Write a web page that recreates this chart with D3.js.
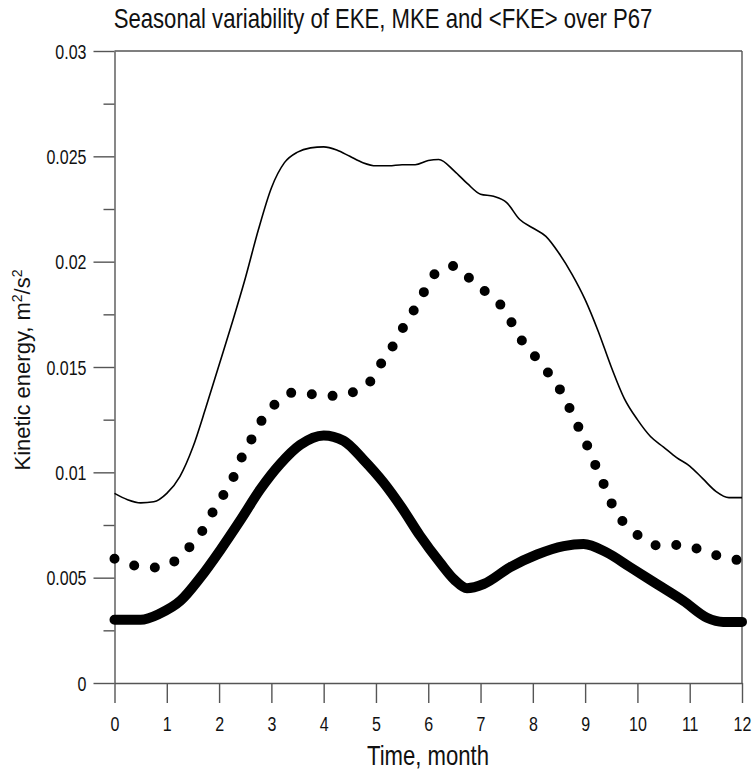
<!DOCTYPE html>
<html>
<head>
<meta charset="utf-8">
<script src="https://cdn.jsdelivr.net/npm/d3@7"></script>
<style>
  body { margin: 0; background: #fff; }
  text { font-family: "Liberation Sans", Arial, sans-serif; fill: #111; }
</style>
</head>
<body>
<div id="chart"></div>
<script>
// thin line
var thinMonths = [0, 0.25, 0.5, 0.75, 1, 1.25, 1.5, 1.75, 2, 2.25, 2.5, 2.75, 3, 3.25, 3.5, 3.75, 4, 4.25, 4.5, 4.75,
  5, 5.25, 5.5, 5.75, 6, 6.2, 6.5, 6.75, 7, 7.25, 7.5, 7.75, 8, 8.25, 8.5, 8.75, 9, 9.25, 9.5, 9.75,
  10, 10.25, 10.5, 10.75, 11, 11.25, 11.5, 11.75, 12];
var thinValues = [0.0090, 0.0087, 0.00855, 0.0086, 0.0090, 0.0098, 0.0112, 0.0131, 0.0151, 0.0171, 0.0192, 0.0215, 0.0235, 0.0247, 0.0252, 0.0254, 0.02545, 0.0253, 0.0250, 0.0247,
  0.02455, 0.02455, 0.0246, 0.0246, 0.0248, 0.02485, 0.0243, 0.0237, 0.0232, 0.0231, 0.0228, 0.0220, 0.0216, 0.0212, 0.0204, 0.0194, 0.0182, 0.0167, 0.0150, 0.0135,
  0.0125, 0.0117, 0.0112, 0.0107, 0.0103, 0.0097, 0.0091, 0.0088, 0.0088];

// dotted line
var dotMonths = [0, 0.4, 0.8, 1.16, 1.45, 1.7, 1.9, 2.1, 2.3, 2.45, 2.65, 2.85, 3.1, 3.45, 3.8, 4.2, 4.6, 4.92,
  5.13, 5.35, 5.55, 5.75, 5.95, 6.16, 6.53, 6.83, 7.13, 7.43, 7.62, 7.83, 8.08, 8.33, 8.55, 8.73, 8.9,
  9.07, 9.22, 9.38, 9.55, 9.78, 10.08, 10.45, 10.85, 11.23, 11.6, 12];
var dotValues = [0.0059, 0.00557, 0.00548, 0.0058, 0.0065, 0.0073, 0.0082, 0.0090, 0.0099, 0.0108, 0.0117, 0.0126, 0.0133, 0.0138, 0.0137, 0.01363, 0.01384, 0.0144,
  0.0153, 0.0161, 0.0170, 0.0178, 0.0187, 0.0195, 0.0198, 0.0191, 0.0185, 0.0178, 0.0170, 0.0161, 0.0154, 0.0146, 0.0138, 0.0129, 0.0120,
  0.0111, 0.0102, 0.0093, 0.0083, 0.0075, 0.0069, 0.0065, 0.00656, 0.0063, 0.0060, 0.0058];

// thick line
var thickMonths = [0, 0.5, 0.87, 1.26, 1.64, 2.02, 2.4, 2.79, 3.17, 3.55, 4, 4.38, 4.76, 5.15, 5.5, 5.84, 6.23, 6.5, 6.74,
  7.06, 7.57, 8.08, 8.59, 8.97, 9.41, 9.86, 10.37, 10.88, 11.33, 11.64, 12];
var thickValues = [0.0030, 0.0030, 0.0033, 0.0039, 0.0050, 0.0063, 0.0077, 0.0092, 0.0104, 0.0113, 0.01175, 0.0115, 0.0106, 0.0095, 0.0083, 0.0070, 0.0057, 0.0049, 0.0045,
  0.0047, 0.0055, 0.0061, 0.0065, 0.0066, 0.0062, 0.0055, 0.0047, 0.0039, 0.0031, 0.0029, 0.0029];

var xTicks = [0, 1, 2, 3, 4, 5, 6, 7, 8, 9, 10, 11, 12];
var yTicks = [0, 0.005, 0.01, 0.015, 0.02, 0.025, 0.03];
var yTickLabels = ["0", "0.005", "0.01", "0.015", "0.02", "0.025", "0.03"];
var yMinorTicks = [0.0025, 0.0075, 0.0125, 0.0175, 0.0225, 0.0275];

var width = 756, height = 770;
var squeeze = 0.8;   // the horizontal text in the picture is narrow

var svg = d3.select("#chart").append("svg")
  .attr("width", width)
  .attr("height", height);

var x = d3.scaleLinear().domain([0, 12]).range([114.5, 742]);
var y = d3.scaleLinear().domain([0, 0.03]).range([683, 51]);

var axisColor = "#555";

// x axis
var gx = svg.append("g")
  .attr("transform", "translate(0," + y(0) + ")")
  .call(d3.axisBottom(x).tickValues(xTicks).tickSize(20).tickSizeOuter(0).tickFormat(d3.format("d")));
gx.selectAll("text")
  .attr("y", 0)
  .attr("dy", null)
  .attr("transform", "translate(0,48) scale(" + squeeze + ",1)")
  .style("font-size", "20px");

// y axis, major then minor ticks
var gy = svg.append("g")
  .attr("transform", "translate(" + x(0) + ",0)")
  .call(d3.axisLeft(y).tickValues(yTicks).tickSize(21).tickSizeOuter(0)
    .tickFormat(function(d, i) { return yTickLabels[i]; }));
gy.selectAll(".tick text")
  .attr("x", 0)
  .attr("dy", "0.35em")
  .attr("transform", "translate(-28,0) scale(" + squeeze + ",1)")
  .style("font-size", "20px");

svg.append("g")
  .attr("transform", "translate(" + x(0) + ",0)")
  .call(d3.axisLeft(y).tickValues(yMinorTicks).tickSize(11).tickSizeOuter(0).tickFormat(""))
  .select(".domain").remove();

svg.selectAll(".domain, .tick line")
  .attr("stroke", axisColor)
  .attr("stroke-width", 1.4);
svg.selectAll(".tick text").attr("fill", "#111");

// frame top and right
svg.append("line")
  .attr("x1", x(0)).attr("x2", x(12))
  .attr("y1", y(0.03)).attr("y2", y(0.03))
  .attr("stroke", axisColor).attr("stroke-width", 1.4);
svg.append("line")
  .attr("x1", x(12)).attr("x2", x(12))
  .attr("y1", y(0)).attr("y2", y(0.03))
  .attr("stroke", axisColor).attr("stroke-width", 1.4);

function pairs(ms, vs) {
  return ms.map(function(m, i) { return [m, vs[i]]; });
}

var line = d3.line()
  .x(function(d) { return x(d[0]); })
  .y(function(d) { return y(d[1]); })
  .curve(d3.curveMonotoneX);

svg.append("path")
  .datum(pairs(thinMonths, thinValues))
  .attr("d", line)
  .attr("fill", "none")
  .attr("stroke", "#000")
  .attr("stroke-width", 1.6);

svg.append("path")
  .datum(pairs(dotMonths, dotValues))
  .attr("d", line)
  .attr("fill", "none")
  .attr("stroke", "#000")
  .attr("stroke-width", 10)
  .attr("stroke-linecap", "round")
  .attr("stroke-dasharray", "0 20.8");

svg.append("path")
  .datum(pairs(thickMonths, thickValues))
  .attr("d", line)
  .attr("fill", "none")
  .attr("stroke", "#000")
  .attr("stroke-width", 10)
  .attr("stroke-linecap", "round")
  .attr("stroke-linejoin", "round");

// titles
svg.append("text")
  .attr("transform", "translate(383,28) scale(0.82,1)")
  .attr("text-anchor", "middle")
  .style("font-size", "27px")
  .text("Seasonal variability of EKE, MKE and <FKE> over P67");

svg.append("text")
  .attr("transform", "translate(428,765) scale(0.82,1)")
  .attr("text-anchor", "middle")
  .style("font-size", "27px")
  .text("Time, month");

var yLabel = svg.append("text")
  .attr("transform", "translate(30,370) rotate(-90)")
  .attr("text-anchor", "middle")
  .style("font-size", "22px");
yLabel.append("tspan").text("Kinetic energy, m");
yLabel.append("tspan").attr("dy", -8).style("font-size", "14px").text("2");
yLabel.append("tspan").attr("dy", 8).text("/s");
yLabel.append("tspan").attr("dy", -8).style("font-size", "14px").text("2");
</script>
</body>
</html>
